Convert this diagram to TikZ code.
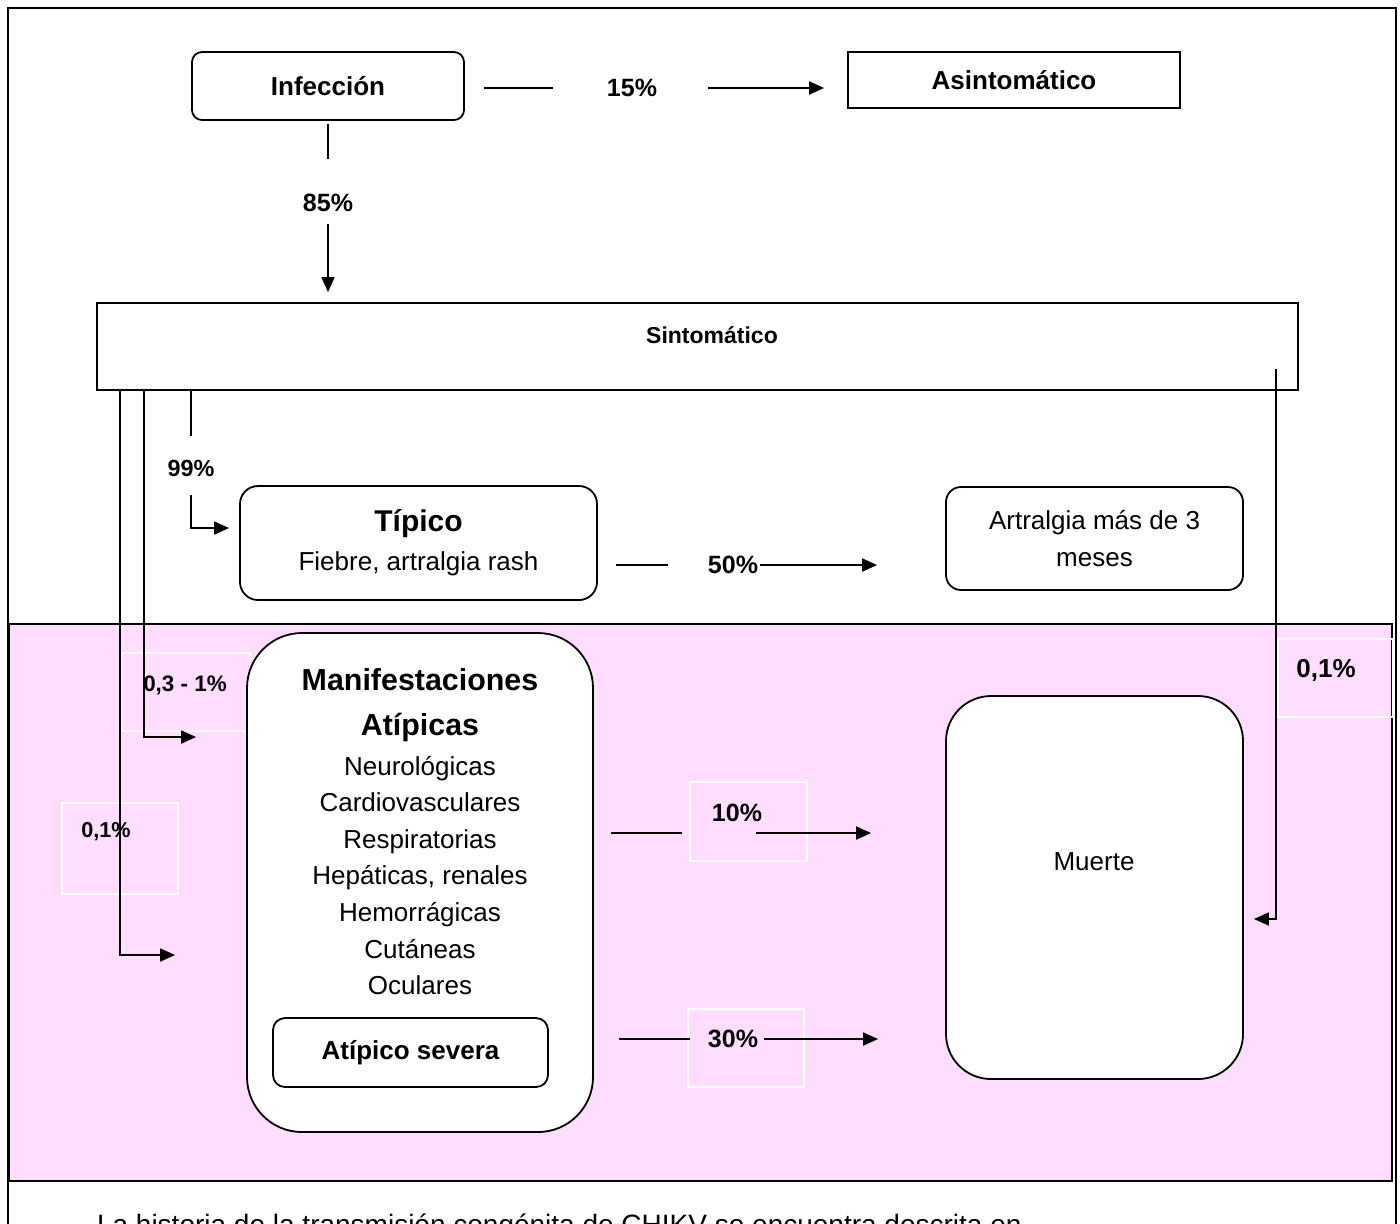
\documentclass[tikz,border=0pt]{standalone}
\usepackage{fontspec}
\setmainfont{Liberation Sans}
\usetikzlibrary{arrows.meta}
\definecolor{pinkbg}{RGB}{255,221,255}
\tikzset{
  plainbox/.style={draw,line width=0.9pt,fill=white,inner sep=0pt},
  rbox/.style={plainbox,rounded corners=#1},
  pct/.style={font=\bfseries\fontsize{12.5}{15}\selectfont},
  txt/.style={font=\fontsize{13}{15.6}\selectfont},
  whitetag/.style={draw=white,line width=0.6pt,inner sep=0pt},
  ln/.style={line width=0.9pt},
  arr/.style={ln,-{Triangle[length=7.5pt,width=6.5pt]}}
}

\begin{document}
\begin{tikzpicture}[x=0.5pt,y=-0.5pt]
  \useasboundingbox (0,0) rectangle (1400,1223);
  \clip (0,0) rectangle (1400,1223);
  \draw[line width=1pt] (8,1240) -- (8,8) -- (1396,8) -- (1396,1240);
  \filldraw[fill=pinkbg,line width=1.2pt] (9,624) rectangle (1392,1181);

  \node[rbox=5pt,minimum width=136pt,minimum height=34pt,font=\bfseries\fontsize{13}{15.6}\selectfont] (inf) at (328,86) {Infección};
  \node[plainbox,minimum width=166pt,minimum height=28pt,font=\bfseries\fontsize{13}{15.6}\selectfont] (asin) at (1014,80) {Asintomático};
  \node[plainbox,minimum width=600.5pt,minimum height=43.5pt] (sint) at (697.5,346.5) {};
  \node[font=\bfseries\fontsize{11.5}{14}\selectfont] (sintT) at (712,335) {Sintomático};
  \node[rbox=9pt,minimum width=178.5pt,minimum height=57pt,align=center,font=\fontsize{13}{19.5}\selectfont] (tip) at (418.5,543)
    {{\bfseries\fontsize{15}{19.5}\selectfont Típico}\\Fiebre, artralgia rash};
  \node[rbox=7.5pt,minimum width=148.5pt,minimum height=51.5pt,align=center,font=\fontsize{13}{18.5}\selectfont] (artr) at (1094.5,538.5)
    {Artralgia más de 3\\meses};

  \node[whitetag,minimum width=64.5pt,minimum height=39pt] (r03) at (185.5,692) {};
  \node[whitetag,minimum width=58pt,minimum height=45.5pt] (r01a) at (120,848.5) {};
  \node[whitetag,minimum width=58.5pt,minimum height=39.5pt] (r10) at (748.5,821.5) {};
  \node[whitetag,minimum width=58pt,minimum height=39pt] (r30) at (746,1048) {};
  \node[whitetag,minimum width=57.5pt,minimum height=39pt] (r01b) at (1335.5,678) {};

  \node[rbox=27.5pt,minimum width=173pt,minimum height=249.5pt] (manif) at (420,882.5) {};
  \node[font=\bfseries\fontsize{15.2}{22.5}\selectfont,align=center] (manifT) at (420,705.5) {Manifestaciones\\Atípicas};
  \node[font=\fontsize{13}{18.3}\selectfont,align=center] (manifL) at (420,875.5)
    {Neurológicas\\Cardiovasculares\\Respiratorias\\Hepáticas, renales\\Hemorrágicas\\Cutáneas\\Oculares};
  \node[rbox=6pt,minimum width=137.5pt,minimum height=34.5pt,font=\bfseries\fontsize{13}{15.6}\selectfont] (sev) at (410.5,1052.5) {Atípico severa};
  \node[rbox=22.5pt,minimum width=148.5pt,minimum height=191.5pt] (muer) at (1094.5,887.5) {};
  \node[txt] (muerT) at (1094,862) {Muerte};

  \node[pct] (p15) at (632,88) {15\%};
  \node[pct] (p85) at (328,203) {85\%};
  \node[font=\bfseries\fontsize{11.7}{14}\selectfont] (p99) at (191,468) {99\%};
  \node[pct] (p50) at (733,565) {50\%};
  \node[font=\bfseries\fontsize{11.2}{13.4}\selectfont] (p03) at (185,685) {0,3 - 1\%};
  \node[font=\bfseries\fontsize{10.8}{13}\selectfont] (p01a) at (106,832) {0,1\%};
  \node[pct] (p10) at (737,813) {10\%};
  \node[pct] (p30) at (733,1039) {30\%};
  \node[font=\bfseries\fontsize{13}{15.6}\selectfont] (p01b) at (1326,670) {0,1\%};

  \coordinate (k99) at (191,528);
  \coordinate (k03) at (144,737);
  \coordinate (k01) at (120,955);
  \coordinate (k10) at (719,833);
  \coordinate (k30) at (727,1039);
  \coordinate (k01b) at (1276,919);

  \draw[ln,shorten <=9.5pt,shorten >=39.5pt] (inf.east |- p15.center) -- (p15.center);
  \draw[arr,shorten <=38pt,shorten >=11.5pt] (p15.center) -- (p15.center -| asin.west);
  \draw[ln,shorten <=1.5pt,shorten >=22pt] (inf.south) -- (p85.center);
  \draw[arr,shorten <=10.5pt,shorten >=5pt] (p85.center) -- (p85.center |- sint.north);

  \draw[ln,shorten >=16pt] (p99.center |- sint.south) -- (p99.center);
  \draw[arr,shorten <=13.5pt,shorten >=5pt] (p99.center) -- (k99) -- (k99 -| tip.west);
  \draw[arr,shorten >=25pt] (k03 |- sint.south) -- (k03) -- (k03 -| manif.west);
  \draw[arr,shorten >=35.5pt] (k01 |- sint.south) -- (k01) -- (k01 -| manif.west);
  \draw[arr,shorten <=-11pt,shorten >=5pt] (k01b |- sint.south) -- (k01b) -- (k01b -| muer.east);

  \draw[ln,shorten <=9pt,shorten >=32.5pt] (p50.center -| tip.east) -- (p50.center);
  \draw[arr,shorten <=13.5pt,shorten >=34pt] (p50.center) -- (p50.center -| artr.west);
  \draw[ln,shorten <=8.5pt,shorten >=18.5pt] (k10 -| manif.east) -- (k10);
  \draw[arr,shorten <=18.5pt,shorten >=37pt] (k10) -- (k10 -| muer.west);
  \draw[ln,shorten <=12.5pt,shorten >=18.5pt] (k30 -| manif.east) -- (k30);
  \draw[arr,shorten <=18.5pt,shorten >=33.5pt] (k30) -- (k30 -| muer.west);

  \node[anchor=base west,font=\fontsize{14}{16.8}\selectfont] (nota) at (90,1234) {La historia de la transmisión congénita de CHIKV se encuentra descrita en};
\end{tikzpicture}
\end{document}
